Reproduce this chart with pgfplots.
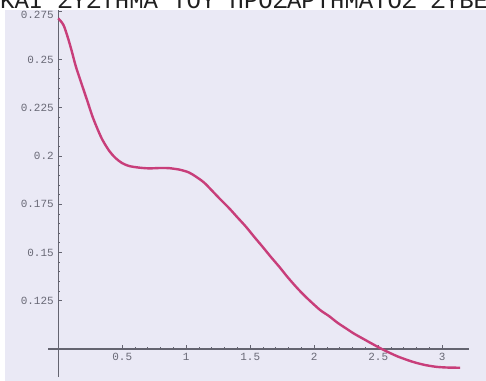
\documentclass[border=0pt]{standalone}
\usepackage{fontspec}
\usepackage{pgfplots}
\usepackage{pgfplotstable}
\pgfplotsset{compat=1.18}
\newfontfamily\monofont{Liberation Mono}

\definecolor{paper}{RGB}{234,233,245}
\definecolor{axisgray}{RGB}{100,100,112}
\definecolor{labelgray}{RGB}{105,105,118}
\definecolor{curve}{RGB}{200,62,122}

% sampled curve: x, y
\pgfplotstableread{
x      y
0.000  0.2713
0.040  0.2680
0.073  0.2618
0.105  0.2545
0.138  0.2463
0.190  0.2359
0.230  0.2280
0.268  0.2204
0.310  0.2135
0.346  0.2083
0.400  0.2025
0.450  0.1988
0.500  0.1963
0.555  0.1948
0.630  0.1940
0.710  0.1936
0.800  0.1938
0.867  0.1937
0.950  0.1929
1.020  0.1915
1.076  0.1893
1.140  0.1862
1.205  0.1818
1.270  0.1773
1.336  0.1729
1.400  0.1682
1.466  0.1634
1.530  0.1582
1.596  0.1530
1.660  0.1478
1.727  0.1426
1.790  0.1374
1.857  0.1323
1.920  0.1279
1.987  0.1237
2.050  0.1200
2.117  0.1170
2.180  0.1137
2.248  0.1107
2.310  0.1080
2.377  0.1055
2.450  0.1028
2.534  0.0998
2.650  0.0962
2.768  0.0934
2.860  0.0918
2.950  0.0908
3.040  0.0904
3.140  0.0903
}\curvedata

\begin{document}
\begin{tikzpicture}
  \path[use as bounding box, fill=white] (0,0) rectangle (486bp,381bp);
  \clip (0,0) rectangle (486bp,381bp);
  \fill[paper] (5bp,0) rectangle (486bp,371bp);
  \begin{axis}[
    at={(48bp,4bp)}, anchor=south west,
    scale only axis, width=421.1bp, height=366.7bp,
    xmin=-0.08, xmax=3.21,
    ymin=-0.0145, ymax=0.1755,
    axis lines=middle,
    every inner x axis line/.append style={-},
    every inner y axis line/.append style={-},
    axis line style={draw=axisgray, line width=1.1bp},
    clip=false,
    xtick={0.5,1,1.5,2,2.5,3},
    xticklabels={0.5,1,1.5,2,2.5,3},
    ytick={0.025,0.05,0.075,0.1,0.125,0.15},
    yticklabels={0.125,0.15,0.175,0.2,0.225,0.25},
    extra y ticks={0.175},
    extra y tick labels={0.275},
    extra y tick style={yticklabel style={yshift=-3.5bp}},
    minor x tick num=4, minor y tick num=4,
    tick align=inside,
    major tick length=4bp, minor tick length=2bp,
    tick style={draw=axisgray, line width=0.8bp},
    ticklabel style={font=\monofont\fontsize{11}{11}\selectfont, text=labelgray},
    xticklabel style={yshift=-1bp},
    yticklabel style={xshift=-1bp},
  ]
    \addplot[smooth, line width=2.4bp, color=curve]
      table[x=x, y expr=\thisrow{y}-0.1] {\curvedata};
  \end{axis}
  % top margin of the page with its heading line, cut by the scan
  \fill[white] (0,371bp) rectangle (486bp,381bp);
  \node[anchor=base west, inner sep=0pt, text=black!88]
    at (0bp,372.5bp) {\raisebox{0pt}[\height][0pt]{\monofont\fontsize{24}{24}\selectfont ΚΑΙ ΣΥΣΤΗΜΑ ΤΟΥ ΠΡΟΣΑΡΤΗΜΑΤΟΣ ΣΥΒΕ}};
\end{tikzpicture}
\end{document}
